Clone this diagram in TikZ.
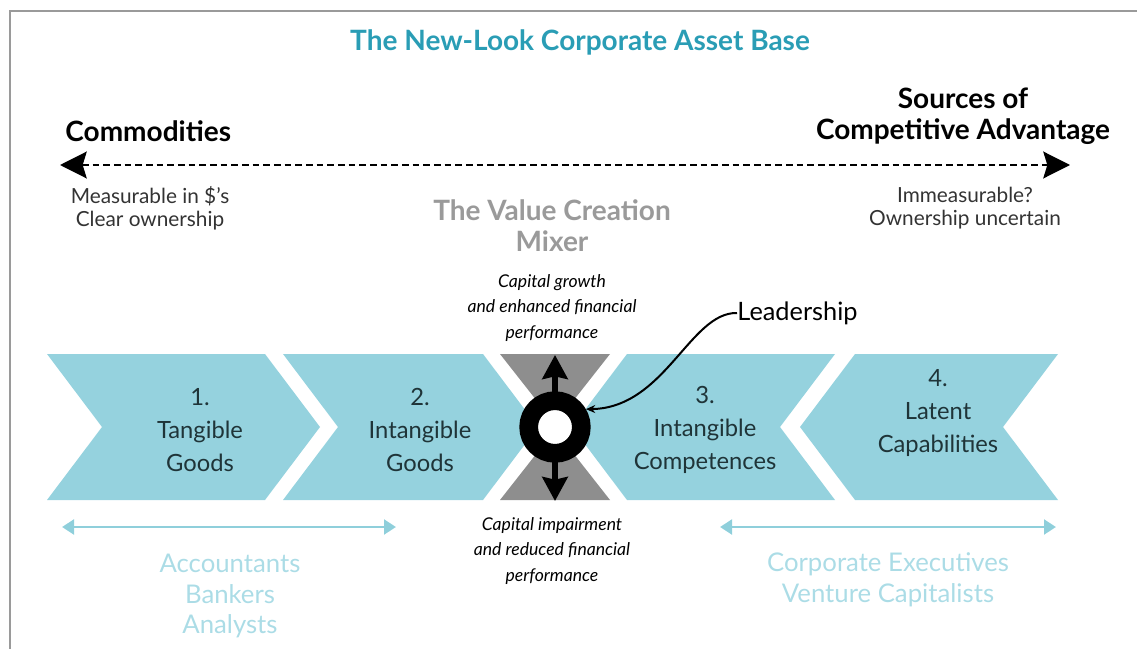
\documentclass[tikz,border=0pt]{standalone}
\usepackage{fontspec}
\setmainfont{Lato}
\usetikzlibrary{arrows,arrows.meta,positioning}

\definecolor{titleblue}{HTML}{2A9DB5}
\definecolor{chevfill}{HTML}{95D2DE}
\definecolor{mixgrey}{HTML}{8E8E8E}
\definecolor{mixtext}{HTML}{9A9A9A}
\definecolor{darktext}{HTML}{1F3438}
\definecolor{paletext}{HTML}{ABDCE6}
\definecolor{palearrow}{HTML}{8FCFDB}
\definecolor{framegrey}{HTML}{9A9A9A}

\begin{document}
\begin{tikzpicture}
[x=0.75pt,y=-0.75pt,>=stealth',semithick]

  \tikzstyle{every node}=[inner sep=0pt]
  \tikzstyle{chev}=[fill=chevfill]
  \tikzstyle{chevtext}=[text=darktext,align=center,font=\fontsize{17.8}{24.5}\selectfont]
  \tikzstyle{headline}=[font=\bfseries\fontsize{21}{23}\selectfont,align=center]
  \tikzstyle{note}=[text=black!80,align=center,font=\fontsize{15.6}{17.5}\selectfont]
  \tikzstyle{outcome}=[align=center,font=\itshape\fontsize{13.2}{19}\selectfont]
  \tikzstyle{users}=[text=paletext,align=center,font=\fontsize{19.3}{23}\selectfont]
  \tikzstyle{spectrum}=[dashed,dash pattern=on 5pt off 3pt,line width=2pt,
      {Stealth[length=20pt,width=20pt,inset=3pt]}-{Stealth[length=20pt,width=20pt,inset=3pt]}]
  \tikzstyle{scope arrow}=[palearrow,line width=2.2pt,
      {Triangle[length=9pt,width=11pt]}-{Triangle[length=9pt,width=11pt]}]
  \tikzstyle{mix arrow}=[line width=3.8pt,-{Stealth[length=18pt,width=19pt,inset=2pt]}]

  \useasboundingbox (0,0) rectangle (1137,649);
  \draw[framegrey,line width=1.5pt] (1137,11) -- (10,11) -- (10,649);

  % title and spectrum
  \node[headline,text=titleblue] (title) at (580,42) {The New-Look Corporate Asset Base};
  \node[headline,anchor=west] (comm) at (65,131) {Commodities};
  \node[headline] (sources) at (963,116) {Sources of\\Competitive Advantage};
  \coordinate (cl) at (60,165);
  \coordinate (cr) at (1070,165);
  \draw[spectrum] (cl) -- (cr);
  \node[note] (meas) at (150,208) {Measurable in \$'s\\Clear ownership};
  \node[note] (immeas) at (965,208) {Immeasurable?\\Ownership uncertain};

  % the four asset chevrons
  \fill[chev] (47,354) -- (265,354) -- (320,427) -- (265,500) -- (47,500) -- (102,427) -- cycle;
  \fill[chev] (283,354) -- (483,354) -- (538,427) -- (483,500) -- (283,500) -- (338,427) -- cycle;
  \fill[chev] (627,354) -- (835,354) -- (780,427) -- (835,500) -- (627,500) -- (572,427) -- cycle;
  \fill[chev] (855,354) -- (1058,354) -- (1003,427) -- (1058,500) -- (855,500) -- (800,427) -- cycle;
  \fill[mixgrey] (500,354) -- (610,354) -- (555,424) -- cycle;
  \fill[mixgrey] (500,500) -- (610,500) -- (555,430) -- cycle;

  \node[chevtext] (tang)  at (200,430) {1.\\Tangible\\Goods};
  \node[chevtext] (intg)  at (420,430) {2.\\Intangible\\Goods};
  \node[chevtext] (intc)  at (705,430) {3.\\Intangible\\Competences};
  \node[chevtext] (late)  at (938,413) {4.\\Latent\\Capabilities};

  % the mixer
  \node[headline,text=mixtext] (mixer) at (552,226) {The Value Creation\\Mixer};
  \node[outcome] (growth) at (552,308) {Capital growth\\and enhanced financial\\performance};
  \node[outcome] (impair) at (552,551) {Capital impairment\\and reduced financial\\performance};
  \coordinate (up) at (555,355);
  \coordinate (down) at (555,501);
  \draw[mix arrow] (555,427) -- (up);
  \draw[mix arrow] (555,427) -- (down);
  \node[circle,draw=black,fill=white,line width=14pt,minimum size=39.5pt] (mix) at (555,427) {};

  \node[anchor=west,font=\fontsize{19}{22}\selectfont] (lead) at (737,313) {Leadership};
  \draw[line width=1.5pt,-{Stealth[length=7pt,width=6pt]}] (lead.west) .. controls (690,312) and (665,408) .. (mix.30);

  % who looks at which end
  \coordinate (al) at (62,527);
  \coordinate (ar) at (396,527);
  \coordinate (bl) at (720,527);
  \coordinate (br) at (1056,527);
  \draw[scope arrow] (al) -- (ar);
  \draw[scope arrow] (bl) -- (br);
  \node[users] (acc) at (230,596) {Accountants\\Bankers\\Analysts};
  \node[users] (exec) at (888,580) {Corporate Executives\\Venture Capitalists};
\end{tikzpicture}
\end{document}
